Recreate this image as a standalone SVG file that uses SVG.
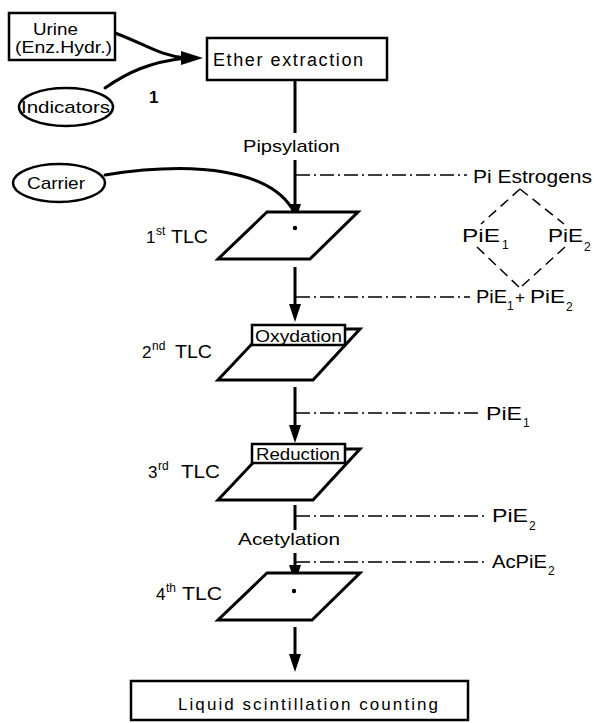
<svg xmlns="http://www.w3.org/2000/svg" width="594" height="723" viewBox="0 0 594 723">
<style>
.t{font-family:"Liberation Sans",Arial,sans-serif;font-size:17px;fill:#000}
.l{font-size:18px}
.s{font-size:12px}
.box{fill:#fff;stroke:#000;stroke-width:2.5}
.plate{fill:#fff;stroke:#000;stroke-width:3;stroke-linejoin:miter}
.main{stroke:#000;stroke-width:3;fill:none}
.curve{stroke:#000;stroke-width:3;fill:none;stroke-linecap:round}
.dd{stroke:#000;stroke-width:1.6;fill:none;stroke-dasharray:14 4 2 4}
.dash{stroke:#000;stroke-width:1.5;fill:none;stroke-dasharray:10 6}
</style>
<defs>
<marker id="ah" markerUnits="userSpaceOnUse" markerWidth="20" markerHeight="14" refX="10" refY="6" orient="auto">
<path d="M0,0 L18,6 L0,12 z" fill="#000"/>
</marker>
</defs>

<g id="connectors">
<path class="curve" d="M115,33 C145,44 160,56 186,58"/>
<path class="curve" d="M105,88 C128,72 150,62 186,58"/>
<polygon points="181,51 203,58 181,65" fill="#000"/>
<path class="curve" d="M105,175 C200,160 268,172 291,207"/>
<line class="main" x1="295" y1="80" x2="295" y2="133"/>
<line class="main" x1="295" y1="160" x2="295" y2="214" marker-end="url(#ah)"/>
<line class="main" x1="295" y1="267" x2="295" y2="314" marker-end="url(#ah)"/>
<line class="main" x1="295" y1="387" x2="295" y2="435" marker-end="url(#ah)"/>
<line class="main" x1="295" y1="505" x2="295" y2="530"/>
<line class="main" x1="295" y1="553" x2="295" y2="575" marker-end="url(#ah)"/>
<line class="main" x1="295" y1="627" x2="295" y2="664" marker-end="url(#ah)"/>
<line class="dd" x1="296" y1="175" x2="467" y2="175"/>
<line class="dd" x1="296" y1="297" x2="470" y2="297"/>
<line class="dd" x1="296" y1="413" x2="478" y2="413"/>
<line class="dd" x1="296" y1="516" x2="484" y2="516"/>
<line class="dd" x1="296" y1="562" x2="484" y2="562"/>
<line class="dash" x1="520" y1="189" x2="481" y2="224"/>
<line class="dash" x1="520" y1="189" x2="564" y2="224"/>
<line class="dash" x1="477" y1="247" x2="519" y2="287"/>
<line class="dash" x1="565" y1="247" x2="521" y2="287"/>
</g>

<g id="urine">
<rect class="box" x="9" y="13" width="106" height="47"/>
<text class="t" x="33" y="35" textLength="45" lengthAdjust="spacingAndGlyphs">Urine</text>
<text class="t" x="15" y="53" textLength="97" lengthAdjust="spacingAndGlyphs">(Enz.Hydr.)</text>
</g>

<g id="indicators">
<ellipse class="box" cx="66" cy="107" rx="47" ry="19"/>
<text class="t" x="21" y="113" textLength="89" lengthAdjust="spacingAndGlyphs">Indicators</text>
</g>
<text class="t" x="149" y="103" font-size="12" font-weight="bold">1</text>

<g id="ether">
<rect class="box" x="207" y="38" width="180" height="42"/>
<text class="t l" x="213" y="66" textLength="150">Ether extraction</text>
</g>
<text class="t" x="243" y="152" textLength="97" lengthAdjust="spacingAndGlyphs">Pipsylation</text>

<g id="carrier">
<ellipse class="box" cx="59" cy="183" rx="46" ry="19"/>
<text class="t" x="27" y="189" textLength="58" lengthAdjust="spacingAndGlyphs">Carrier</text>
</g>

<g id="tlc1">
<polygon class="plate" points="267,212 358,212 310,259 218,259"/>
<circle cx="295" cy="228" r="2.2" fill="#000"/>
<text class="t" x="146" y="243">1</text>
<text class="t s" x="156" y="235">st</text>
<text class="t l" x="171" y="243" textLength="37" lengthAdjust="spacingAndGlyphs">TLC</text>
</g>

<g id="tlc2">
<polygon class="plate" points="266,329 360,329 313,380 218,380"/>
<text class="t" x="142" y="358">2</text>
<text class="t s" x="152" y="350">nd</text>
<text class="t l" x="175" y="358" textLength="37" lengthAdjust="spacingAndGlyphs">TLC</text>
</g>
<g id="oxydation">
<rect class="box" x="252" y="325" width="93" height="20" stroke-width="2"/>
<text class="t" x="255" y="342" textLength="87" lengthAdjust="spacingAndGlyphs">Oxydation</text>
</g>

<g id="tlc3">
<polygon class="plate" points="266,449 360,449 313,500 218,500"/>
<text class="t" x="148" y="478">3</text>
<text class="t s" x="158" y="470">rd</text>
<text class="t l" x="181" y="478" textLength="39" lengthAdjust="spacingAndGlyphs">TLC</text>
</g>
<g id="reduction">
<rect class="box" x="252" y="444" width="93" height="19" stroke-width="2"/>
<text class="t" x="256" y="460" textLength="84" lengthAdjust="spacingAndGlyphs">Reduction</text>
</g>

<text class="t" x="238" y="545" textLength="102" lengthAdjust="spacingAndGlyphs">Acetylation</text>

<g id="tlc4">
<polygon class="plate" points="267,573 360,573 312,620 218,620"/>
<circle cx="294" cy="591" r="2.2" fill="#000"/>
<text class="t" x="156" y="600">4</text>
<text class="t s" x="166" y="592">th</text>
<text class="t l" x="182" y="600" textLength="40" lengthAdjust="spacingAndGlyphs">TLC</text>
</g>

<g id="lsc">
<rect class="box" x="131" y="681" width="337" height="39"/>
<text class="t" x="178" y="710" textLength="260">Liquid scintillation counting</text>
</g>

<g id="labels">
<text class="t l" x="473" y="183" textLength="119" lengthAdjust="spacingAndGlyphs">Pi Estrogens</text>
<text class="t l" x="462" y="242" textLength="38" lengthAdjust="spacingAndGlyphs">PiE</text>
<text class="t s" x="502" y="249">1</text>
<text class="t l" x="548" y="242" textLength="35" lengthAdjust="spacingAndGlyphs">PiE</text>
<text class="t s" x="584" y="251">2</text>
<text class="t l" x="476" y="303" textLength="31" lengthAdjust="spacingAndGlyphs">PiE</text>
<text class="t s" x="507" y="310">1</text>
<text class="t" x="515" y="303">+</text>
<text class="t l" x="530" y="303" textLength="35" lengthAdjust="spacingAndGlyphs">PiE</text>
<text class="t s" x="566" y="311">2</text>
<text class="t l" x="486" y="420" textLength="36" lengthAdjust="spacingAndGlyphs">PiE</text>
<text class="t s" x="523" y="427">1</text>
<text class="t l" x="492" y="522" textLength="36" lengthAdjust="spacingAndGlyphs">PiE</text>
<text class="t s" x="529" y="530">2</text>
<text class="t l" x="492" y="568" textLength="55" lengthAdjust="spacingAndGlyphs">AcPiE</text>
<text class="t s" x="548" y="575">2</text>
</g>
</svg>
